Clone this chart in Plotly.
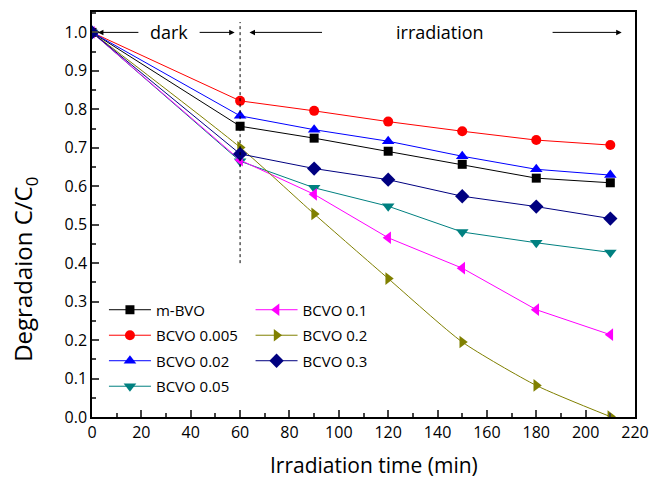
import plotly.graph_objects as go

time = [0, 60, 90, 120, 150, 180, 210]
names = ["m-BVO", "BCVO 0.005", "BCVO 0.02", "BCVO 0.05", "BCVO 0.1", "BCVO 0.2", "BCVO 0.3"]
m_bvo = [1.0, 0.756, 0.725, 0.691, 0.657, 0.621, 0.609]
bcvo_0005 = [1.0, 0.822, 0.796, 0.768, 0.743, 0.720, 0.707]
bcvo_002 = [1.0, 0.783, 0.747, 0.717, 0.678, 0.644, 0.629]
bcvo_005 = [1.0, 0.665, 0.596, 0.548, 0.481, 0.453, 0.428]
bcvo_01 = [1.0, 0.668, 0.579, 0.466, 0.387, 0.279, 0.214]
bcvo_02 = [1.0, 0.701, 0.528, 0.360, 0.195, 0.082, 0.001]
bcvo_03 = [1.0, 0.684, 0.646, 0.617, 0.574, 0.547, 0.516]

series = [m_bvo, bcvo_0005, bcvo_002, bcvo_005, bcvo_01, bcvo_02, bcvo_03]
colors = ["#000000", "#ff0000", "#0000ff", "#008080", "#ff00ff", "#808000", "#000080"]
symbols = ["square", "circle", "triangle-up", "triangle-down", "triangle-left", "triangle-right", "diamond"]
msizes = [9, 10, 11, 11, 11, 11, 11]
legends = ["legend", "legend", "legend", "legend", "legend2", "legend2", "legend2"]
shapes_line = ["linear", "linear", "linear", "linear", "linear", "spline", "linear"]

FONT = "Open Sans"
fig = go.Figure()
for i, (nm, ys) in enumerate(zip(names, series)):
    fig.add_trace(go.Scatter(
        x=time, y=ys, name=nm, mode="lines+markers",
        line=dict(color=colors[i], width=1, shape=shapes_line[i], smoothing=0.6),
        marker=dict(symbol=symbols[i], size=msizes[i], color=colors[i]),
        legend=legends[i], legendgroup=nm,
    ))

# dark / irradiation annotations
fig.add_shape(type="line", x0=60, x1=60, y0=0.40, y1=1.027, xref="x", yref="y",
              line=dict(color="black", width=1, dash="3px,3px"))
arrows = [(2.4, 19.4), (57.8, 43), (63.8, 93.8), (214.6, 186)]
for head, tail in arrows:
    fig.add_annotation(x=head, y=1.0, ax=tail, ay=1.0, xref="x", yref="y", axref="x", ayref="y",
                       text="", showarrow=True, arrowhead=2, arrowsize=1.1, arrowwidth=1, arrowcolor="black")
fig.add_annotation(x=31, y=1.0, text="dark", showarrow=False, font=dict(family=FONT, size=18, color="black"))
fig.add_annotation(x=141, y=1.0, text="irradiation", showarrow=False, font=dict(family=FONT, size=18, color="black"))

# axis titles
fig.add_annotation(x=-0.124, y=0.365, xref="paper", yref="paper", text="Degradaion C/C<sub>0</sub>",
                   textangle=-90, showarrow=False, xanchor="center", yanchor="middle",
                   font=dict(family=FONT, size=24, color="black"))
fig.add_annotation(x=0.52, y=-0.119, xref="paper", yref="paper", text="Irradiation time (min)",
                   showarrow=False, xanchor="center", yanchor="middle",
                   font=dict(family=FONT, size=21, color="black"))

legend_style = dict(bgcolor="rgba(0,0,0,0)", font=dict(family=FONT, size=15, color="black"),
                    tracegroupgap=3, itemwidth=42, yanchor="top")
fig.update_layout(
    width=659, height=481,
    margin=dict(l=92, r=16, t=10, b=64),
    plot_bgcolor="white", paper_bgcolor="white",
    font=dict(family=FONT, color="black"),
    legend=dict(x=0.022, y=0.305, **legend_style),
    legend2=dict(x=0.292, y=0.305, **legend_style),
    xaxis=dict(range=[0, 220], tick0=0, dtick=20, ticks="inside", ticklen=7, tickwidth=1.5,
               minor=dict(ticks="inside", ticklen=4, dtick=10, tickwidth=1.5),
               showline=True, linecolor="black", linewidth=1.5, mirror=True, showgrid=False, zeroline=False,
               tickfont=dict(family=FONT, size=16)),
    yaxis=dict(range=[0, 1.053], tick0=0, dtick=0.1, tickformat=".1f", ticks="inside", ticklen=7, tickwidth=1.5,
               minor=dict(ticks="inside", ticklen=4, dtick=0.05, tickwidth=1.5),
               showline=True, linecolor="black", linewidth=1.5, mirror=True, showgrid=False, zeroline=False,
               tickfont=dict(family=FONT, size=16)),
)
fig.write_html("out.html")
